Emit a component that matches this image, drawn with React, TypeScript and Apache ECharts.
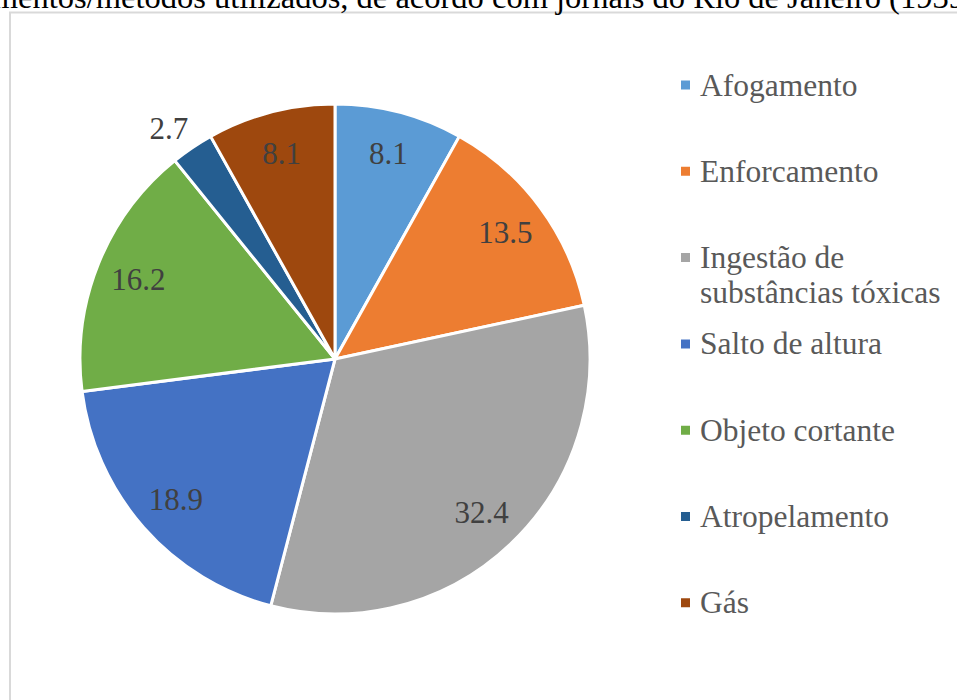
import React, { useEffect, useRef } from 'react';
import * as echarts from 'echarts';

const categories = [
  'Afogamento',
  'Enforcamento',
  'Ingestão de substâncias tóxicas',
  'Salto de altura',
  'Objeto cortante',
  'Atropelamento',
  'Gás',
];
const values = [8.1, 13.5, 32.4, 18.9, 16.2, 2.7, 8.1];
const colors = ['#5B9BD5', '#ED7D31', '#A5A5A5', '#4472C4', '#70AD47', '#255E91', '#9E480E'];
const outsideLabelIndex = 5;
const titleText = 'Instrumentos/métodos utilizados, de acordo com jornais do Rio de Janeiro (1939)';

const FONT = 'Liberation Serif';

export default function App() {
  const ref = useRef<HTMLDivElement>(null);

  useEffect(() => {
    if (!ref.current) return;
    const chart = echarts.init(ref.current, undefined, { renderer: 'svg' });

    const legendFirst = 85;
    const legendStep = 86.3;
    const lineH = 35;

    const legends = categories.map((name, i) => {
      const multi = name === 'Ingestão de substâncias tóxicas';
      const center = legendFirst + i * legendStep;
      return {
        data: [name],
        left: 679,
        top: multi ? center - lineH * 1.5 : center - lineH / 2,
        orient: 'vertical',
        padding: 0,
        icon: 'rect',
        itemWidth: 11,
        itemHeight: 11,
        selectedMode: false,
        formatter: multi ? () => '\nIngestão de\nsubstâncias tóxicas' : '{name}',
        textStyle: {
          fontFamily: FONT,
          fontSize: 31.5,
          color: '#595959',
          lineHeight: lineH,
          padding: [0, 0, 0, 4],
        },
      };
    });

    const center = [335, 359];

    chart.setOption({
      animation: false,
      backgroundColor: '#ffffff',
      textStyle: { fontFamily: FONT },
      graphic: [
        {
          type: 'rect',
          z: 0,
          shape: { x: 10, y: 12.5, width: 1000, height: 800 },
          style: { fill: 'none', stroke: '#d9d9d9', lineWidth: 2 },
          silent: true,
        },
        {
          type: 'text',
          z: 10,
          x: -83,
          y: -3,
          style: {
            text: titleText,
            fontFamily: FONT,
            fontSize: 32.5,
            fill: '#000000',
            align: 'left',
            verticalAlign: 'middle',
          },
          silent: true,
        },
      ],
      legend: legends,
      series: [
        {
          type: 'pie',
          center,
          radius: 255,
          startAngle: 90,
          clockwise: true,
          silent: true,
          avoidLabelOverlap: false,
          emphasis: { disabled: true },
          itemStyle: { borderColor: '#ffffff', borderWidth: 3 },
          label: {
            show: false,
            position: 'outside',
            formatter: '{c}',
            fontFamily: FONT,
            fontSize: 31,
            color: '#404040',
            distanceToLabelLine: -9,
          },
          labelLine: { show: false, length: 23, length2: 0 },
          data: categories.map((name, i) => ({
            name,
            value: values[i],
            itemStyle: { color: colors[i] },
            label: { show: i === outsideLabelIndex },
          })),
        },
        {
          type: 'pie',
          center,
          radius: 418,
          startAngle: 90,
          clockwise: true,
          silent: true,
          avoidLabelOverlap: false,
          emphasis: { disabled: true },
          itemStyle: { color: 'rgba(0,0,0,0)', borderWidth: 0 },
          label: {
            show: true,
            position: 'inside',
            formatter: '{c}',
            fontFamily: FONT,
            fontSize: 31,
            color: '#404040',
          },
          labelLine: { show: false },
          data: categories.map((name, i) => ({
            name,
            value: values[i],
            itemStyle: { color: 'rgba(0,0,0,0)' },
            label: { show: i !== outsideLabelIndex },
          })),
        },
      ],
    });

    return () => chart.dispose();
  }, []);

  return (
    <div
      ref={ref}
      style={{ position: 'fixed', left: 0, top: 0, width: 957, height: 700, background: '#fff' }}
    />
  );
}
